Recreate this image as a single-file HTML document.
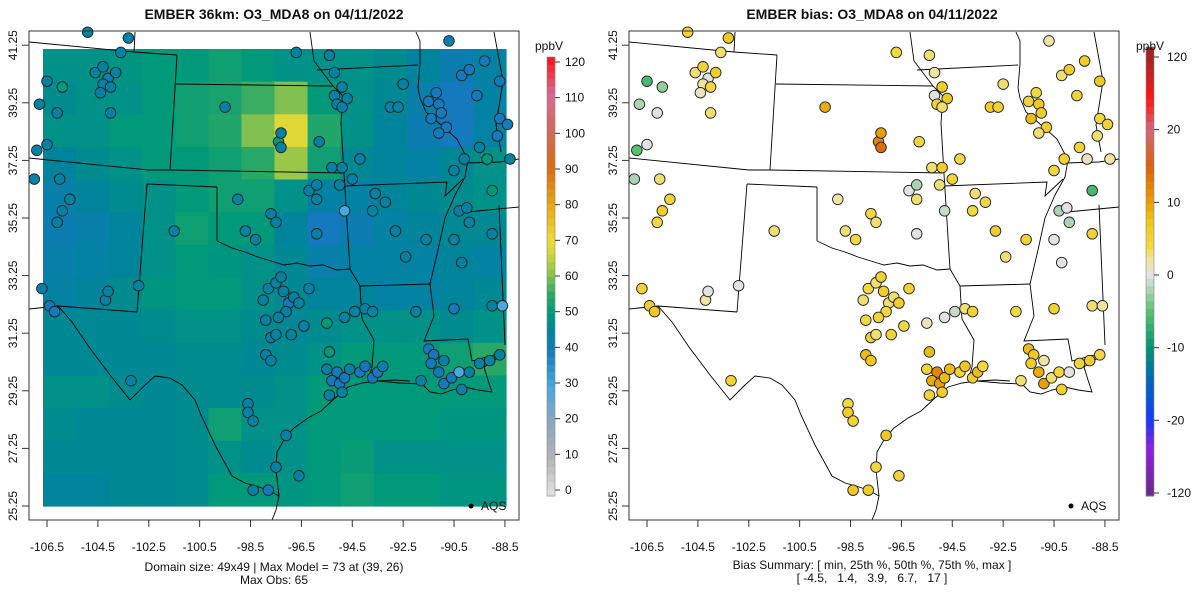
<!DOCTYPE html>
<html><head><meta charset="utf-8"><style>
body{margin:0;background:#fff;}
svg{display:block;font-family:"Liberation Sans",sans-serif;}
text{white-space:pre;}
</style></head><body>
<svg id="chart" width="1200" height="600" viewBox="0 0 1200 600">
<g id="left"></g>
<g id="right"></g>
</svg>
<script>
// ---- data ----
const gridRows = [
[48,48,49,50,50,52,50,48,48,48,47,45,42,44],
[47,48,48,50,52,53,56,60,50,48,46,43,40,44],
[48,48,50,50,52,54,60,68,54,48,45,42,40,44],
[45,47,48,50,50,52,55,62,52,46,45,44,46,48],
[43,45,47,48,50,52,52,48,44,44,45,46,47,48],
[42,43,45,48,52,50,50,45,40,42,44,45,46,46],
[43,44,45,48,50,49,48,46,43,44,44,44,45,44],
[44,45,47,49,50,50,48,46,45,45,44,44,45,46],
[46,46,46,47,48,48,47,46,47,48,48,48,47,48],
[46,46,46,46,47,47,46,47,48,50,50,50,52,55],
[48,48,47,46,47,47,47,48,50,50,50,50,50,50],
[47,46,46,46,47,52,48,48,50,50,50,50,49,49],
[46,46,46,46,47,48,47,48,50,51,48,48,48,48],
[45,45,46,46,47,50,50,49,50,52,50,50,49,49]];
const lons=[-104.6,-104.3,-104.1,-104.3,-104.0,-104.4,-103.8,-105.9,-106.5,-106.1,-106.8,-104.0,-103.3,-104.9,-103.6,-106.9,-106.5,-107.0,-106.0,-105.6,-105.9,-106.1,-106.7,-106.4,-106.2,-104.2,-104.1,-102.9,-103.2,-101.5,
-99.5,-97.4,-97.3,-97.3,-95.8,-95.3,-94.9,-96.2,-95.9,-95.9,-95.0,-94.8,-97.7,-97.5,-98.7,-98.3,-95.9,-99.0,
-95.2,-94.9,-94.7,-95.1,-94.9,-95.2,-96.7,-95.4,-93.0,-92.7,-92.5,-94.2,-94.5,-93.6,-93.7,-92.8,-92.4,-93.2,
-91.5,-91.1,-91.2,-91.0,-91.4,-90.8,-91.1,-90.7,-90.2,-89.9,-89.6,-89.3,-88.7,-88.7,-88.8,-88.4,-89.5,-89.2,-90.1,-90.5,-89.0,-88.3,
-90.3,-90.0,-89.9,-91.6,-90.5,-89.0,-90.2,-90.5,-89.0,-88.6,-92.0,-94.0,-93.7,
-91.5,-91.3,-91.4,-91.1,-90.9,-91.8,-90.9,-90.6,-90.3,-89.9,-89.5,-89.1,-88.7,-90.2,
-97.8,-97.5,-97.3,-97.2,-97.0,-97.1,-97.4,-96.8,-96.6,-98.0,-97.9,-96.2,-96.4,-96.9,-95.5,-94.8,-94.4,-97.7,-97.5,-97.9,-97.7,-98.6,-98.6,-98.4,-97.1,-97.5,-98.4,-97.8,
-95.5,-95.1,-95.3,-95.0,-94.8,-94.6,-94.9,-95.4,-94.2,-94.0,-93.7,-93.5,-93.3,-95.4,-96.6];
const lats=[40.3,40.5,40.1,39.9,39.8,39.6,40.3,39.8,40.0,38.9,39.2,38.9,41.5,41.7,41.0,37.6,37.8,36.6,36.6,35.9,35.5,35.1,32.8,32.2,32.0,32.4,32.7,32.9,29.6,34.8,
39.1,37.9,37.7,38.2,37.9,37.0,37.0,36.2,36.4,35.9,36.4,35.5,35.4,35.1,34.8,34.5,34.7,35.9,
39.5,39.8,39.4,39.2,39.1,40.3,41.0,40.9,39.1,39.1,39.9,37.3,36.6,36.1,35.5,34.8,33.9,35.8,
39.3,39.2,39.6,38.9,38.7,38.4,38.2,41.4,40.2,40.4,39.5,40.7,40.0,38.7,38.1,38.5,37.7,37.3,37.3,36.9,36.2,37.3,
35.5,35.6,35.1,34.5,34.5,34.7,33.7,32.1,32.2,32.2,32.0,32.1,32.0,
30.7,30.5,30.2,29.9,29.5,29.6,30.3,29.7,29.9,29.9,30.2,30.3,30.5,29.3,
32.8,33.0,33.2,32.7,32.3,32.0,31.8,32.5,32.3,32.4,31.7,32.8,31.5,31.2,31.6,31.8,32.0,31.1,31.2,30.5,30.3,28.8,28.5,28.2,27.7,26.6,25.8,25.8,
30.0,29.9,29.6,29.5,29.7,30.0,29.2,29.1,29.9,30.1,29.7,29.9,30.1,30.6,26.3];
const obsVals=[44,44,42,44,44,44,44,50,44,44,44,44,44,44,44,44,44,44,44,44,44,44,42,40,40,44,44,44,44,44,
44,50,44,44,44,44,44,44,44,44,44,30,44,44,44,44,44,44,
44,44,44,44,44,44,44,44,44,44,44,44,44,44,44,44,44,44,
40,40,40,40,40,40,40,42,40,40,40,40,40,40,40,40,44,50,44,44,50,44,
44,44,44,44,44,44,44,40,44,30,44,44,44,
40,40,40,40,40,44,44,40,30,44,44,44,44,44,
44,44,44,44,40,44,44,44,44,44,44,44,44,44,50,44,44,44,44,44,44,44,44,44,44,44,44,40,
44,40,40,40,40,44,44,44,40,40,40,40,44,50,44];
const biasVals=[3,5,0,2,4,1,6,-3,-6,0,-2,3,7,5,3,-5,0,-2,3,5,6,4,5,6,7,2,0,0,5,3,
9,12,14,10,4,3,6,0,-2,3,3,-1,4,3,3,4,0,2,
0,6,7,5,3,2,4,3,6,5,3,4,5,3,4,6,3,4,
5,7,4,6,8,6,3,2,3,6,5,6,7,4,3,5,5,1,5,4,-6,2,
-2,0,-2,5,0,5,0,5,3,2,4,3,5,
8,7,6,9,10,3,2,3,4,0,5,6,4,6,
4,3,5,6,3,4,5,3,6,3,4,5,4,5,1,0,-1,5,3,8,7,4,6,5,7,4,7,6,
5,12,9,10,8,8,6,5,5,7,6,8,4,8,5];
const lonTicks=[-106.5,-104.5,-102.5,-100.5,-98.5,-96.5,-94.5,-92.5,-90.5,-88.5];
const latTicks=[25.25,27.25,29.25,31.25,33.25,35.25,37.25,39.25,41.25];
const obsTicks=[0,10,20,30,40,50,60,70,80,90,100,110,120];
const biasTicks=[-120,-20,-10,0,10,20,120];

// ---- scales ----
const NS='http://www.w3.org/2000/svg';
function X(lon){return 47+(lon+106.5)*25.44;}
function Y(lat){return 506-(lat-25.25)*28.8;}
function hex(h){return [parseInt(h.slice(1,3),16),parseInt(h.slice(3,5),16),parseInt(h.slice(5,7),16)];}
function interp(stops,v){
  if(v<=stops[0][0])return stops[0][1];
  for(let i=1;i<stops.length;i++){if(v<=stops[i][0]){const a=stops[i-1],b=stops[i];const t=(v-a[0])/(b[0]-a[0]);const ca=hex(a[1]),cb=hex(b[1]);return 'rgb('+ca.map((c,k)=>Math.round(c+(cb[k]-c)*t)).join(',')+')';}}
  return stops[stops.length-1][1];
}
const obsStops=[[0,'#e4e4e4'],[10,'#b4b4b4'],[20,'#8ea6c0'],[30,'#4aa8de'],[40,'#1479bd'],[45,'#00849c'],[50,'#00997a'],[55,'#28a866'],[60,'#80c050'],[65,'#c4d23e'],[70,'#eedb34'],[80,'#e8a412'],[90,'#da6a12'],[100,'#d06a5a'],[110,'#d86898'],[120,'#ff1010']];
function obsColor(v){return interp(obsStops,v);}
const biasStops=[[-120,'#6a2a8c'],[-60,'#9020e0'],[-20,'#1838f8'],[-15,'#0064c0'],[-10,'#009470'],[-5,'#5cc070'],[0,'#e2e2e2'],[2,'#efe4a0'],[4,'#f2d840'],[7,'#f0c820'],[10,'#e8a000'],[15,'#d86010'],[20,'#d06a78'],[60,'#ff1818'],[120,'#a02424']];
function biasColor(v){return interp(biasStops,v);}

function el(parent,tag,attrs,text){const e=document.createElementNS(NS,tag);for(const k in attrs)e.setAttribute(k,attrs[k]);if(text!==undefined)e.textContent=text;parent.appendChild(e);return e;}

// borders in panel-local pixel coords (decorative map geometry)
const borders=[
[[29,42],[134,52],[177,55]],[[135,32],[134,52]],[[177,55],[170,170]],[[176,84],[333,86]],
[[310,32],[314,61],[333,86],[343,96],[341,123],[344,174]],[[29,158],[149,170],[170,170]],[[170,170],[343,173]],
[[147,184],[217,187]],[[147,184],[137,312]],[[217,187],[217,241]],
[[217,241],[232,248],[245,252],[258,257],[271,261],[284,265],[297,263],[310,266],[323,265],[337,270],[350,269]],
[[344,174],[350,269]],[[344,186],[447,182],[445,196],[463,179]],[[360,286],[430,284]],
[[350,269],[360,286],[362,319],[374,340],[372,367],[368,381]],[[29,309],[58,306],[137,312]],
[[58,306],[72,322],[89,347],[110,375],[130,400],[145,385],[155,376],[170,378],[182,385],[195,400],[201,415],[215,445],[232,476],[245,483],[256,486],[268,490],[279,496],[276,510],[272,520]],
[[279,496],[276,470],[277,452],[285,438],[294,428],[308,418],[321,411],[335,398],[348,387],[362,383],[377,381],[395,380],[410,381]],
[[377,381],[400,383],[422,384],[430,392],[441,394],[452,390],[465,387],[478,390],[492,392],[488,380],[484,367],[495,360],[503,353]],
[[430,284],[434,316],[424,341],[468,339],[472,361],[490,356],[503,353]],
[[430,284],[438,250],[445,218],[455,195],[465,177],[468,160],[457,139],[440,124],[426,112],[420,98],[418,88],[420,64],[420,41],[416,32]],
[[499,205],[505,345]],[[457,213],[519,207]],[[465,163],[499,162],[519,159]],[[494,32],[503,81],[496,125],[501,152]],[[317,70],[418,65]]];

function panel(g,off,isBias){
  if(!isBias){
    const cw=463/14,ch=457/14;
    const raster=el(g,'g',{});
    
    
    gridRows.forEach((row,r)=>row.forEach((v,c)=>{
      const rc=el(raster,'rect',{x:(43+off+c*cw).toFixed(2),y:(49+r*ch).toFixed(2),width:(cw+0.6).toFixed(2),height:(ch+0.6).toFixed(2),fill:obsColor(v)});
      
      
    }));
  }
  const bg=el(g,'g',{fill:'none',stroke:'#000','stroke-width':0.9});
  
  
  borders.forEach(b=>el(bg,'polyline',{points:b.map(p=>(p[0]+off)+','+p[1]).join(' ')}));
  const sg=el(g,'g',{});
  
  
  lons.forEach((lo,i)=>{
    const c=el(sg,'circle',{cx:(X(lo)+off).toFixed(1),cy:Y(lats[i]).toFixed(1),r:5.3,fill:isBias?biasColor(biasVals[i]):obsColor(obsVals[i]),stroke:'#222','stroke-width':0.9});
    
    
  });
  const box=el(g,'rect',{x:29+off,y:31,width:490,height:489,fill:'none',stroke:'#333','stroke-width':1});
  
  
  lonTicks.forEach(t=>{
    const x=X(t)+off;
    el(g,'line',{x1:x,y1:520,x2:x,y2:527,stroke:'#333'});
    const tx=el(g,'text',{x:x,y:551,'font-size':12,'text-anchor':'middle',fill:'#111'},String(t));
    
    
  });
  latTicks.forEach(t=>{
    const y=Y(t);
    el(g,'line',{x1:29+off,y1:y,x2:22+off,y2:y,stroke:'#333'});
    const tx=el(g,'text',{x:17+off,y:y,'font-size':12,'text-anchor':'middle',fill:'#111',transform:'rotate(-90 '+(17+off)+' '+y+')'},t.toFixed(2));
    
    
  });
  el(g,'circle',{cx:471+off,cy:506,r:2.5,fill:'#000'});
  const lt=el(g,'text',{x:481+off,y:510,'font-size':12,fill:'#111'},'AQS');
  
  
}
const L=document.getElementById('left'),R=document.getElementById('right');
panel(L,0,false);panel(R,600,true);

function txt(g,x,y,s,size,bold,name){const t=el(g,'text',{x:x,y:y,'font-size':size,'text-anchor':'middle','font-weight':bold?'bold':'normal',fill:'#111'},s);}
txt(L,274,19,'EMBER 36km: O3_MDA8 on 04/11/2022',14,true,'chart-title');
txt(R,872,19,'EMBER bias: O3_MDA8 on 04/11/2022',14,true,'chart-title');
txt(L,274,571,'Domain size: 49x49 | Max Model = 73 at (39, 26)',12,false,'footer-domain');
txt(L,274,584,'Max Obs: 65',12,false,'footer-max-obs');
txt(R,872,569,'Bias Summary: [ min, 25th %, 50th %, 75th %, max ]',12,false,'footer-bias-summary');
txt(R,872,582,'[ -4.5,   1.4,   3.9,   6.7,   17 ]',12,false,'footer-bias-values');

(function(){
  const g=el(L,'g',{});
  
  
  const top=57,bot=496,x0=547,w=8,n=60;
  for(let i=0;i<n;i++){const v=(i+0.5)*120/n;const y=bot-(i+1)*(bot-top)/n;el(g,'rect',{x:x0,y:y.toFixed(2),width:w,height:((bot-top)/n+0.5).toFixed(2),fill:obsColor(v)});}
  el(g,'rect',{x:x0,y:top,width:w,height:bot-top,fill:'none',stroke:'#888','stroke-width':0.6});
  obsTicks.forEach(t=>{const y=490-t*(428/120);el(g,'line',{x1:x0+w,y1:y,x2:x0+w+5,y2:y,stroke:'#333'});const tx=el(g,'text',{x:x0+w+10,y:y+4,'font-size':12,fill:'#111'},String(t));});
  const u=el(g,'text',{x:x0+2,y:50,'font-size':12,'text-anchor':'middle',fill:'#111'},'ppbV');
})();
(function(){
  const g=el(R,'g',{});
  
  
  const top=47,bot=496,x0=1146,w=8,y0=493,y1=57,step=(y0-y1)/(biasTicks.length-1);
  const n=60;
  for(let i=0;i<n;i++){
    const yTop=top+i*(bot-top)/n, yc=yTop+(bot-top)/n/2;
    let idx=(y0-yc)/step; idx=Math.max(0,Math.min(biasTicks.length-1-1e-6,idx));
    const k=Math.floor(idx),f=idx-k;const v=biasTicks[k]+(biasTicks[k+1]-biasTicks[k])*f;
    el(g,'rect',{x:x0,y:yTop.toFixed(2),width:w,height:((bot-top)/n+0.5).toFixed(2),fill:biasColor(v)});
  }
  el(g,'rect',{x:x0,y:top,width:w,height:bot-top,fill:'none',stroke:'#888','stroke-width':0.6});
  biasTicks.forEach((t,i)=>{const y=y0-i*step;el(g,'line',{x1:x0+w,y1:y,x2:x0+w+5,y2:y,stroke:'#333'});const tx=el(g,'text',{x:x0+w+13,y:y+4,'font-size':12,fill:'#111'},String(t));});
  const u=el(g,'text',{x:x0+4,y:50,'font-size':12,'text-anchor':'middle',fill:'#111'},'ppbV');
})();
</script>
</body></html>
